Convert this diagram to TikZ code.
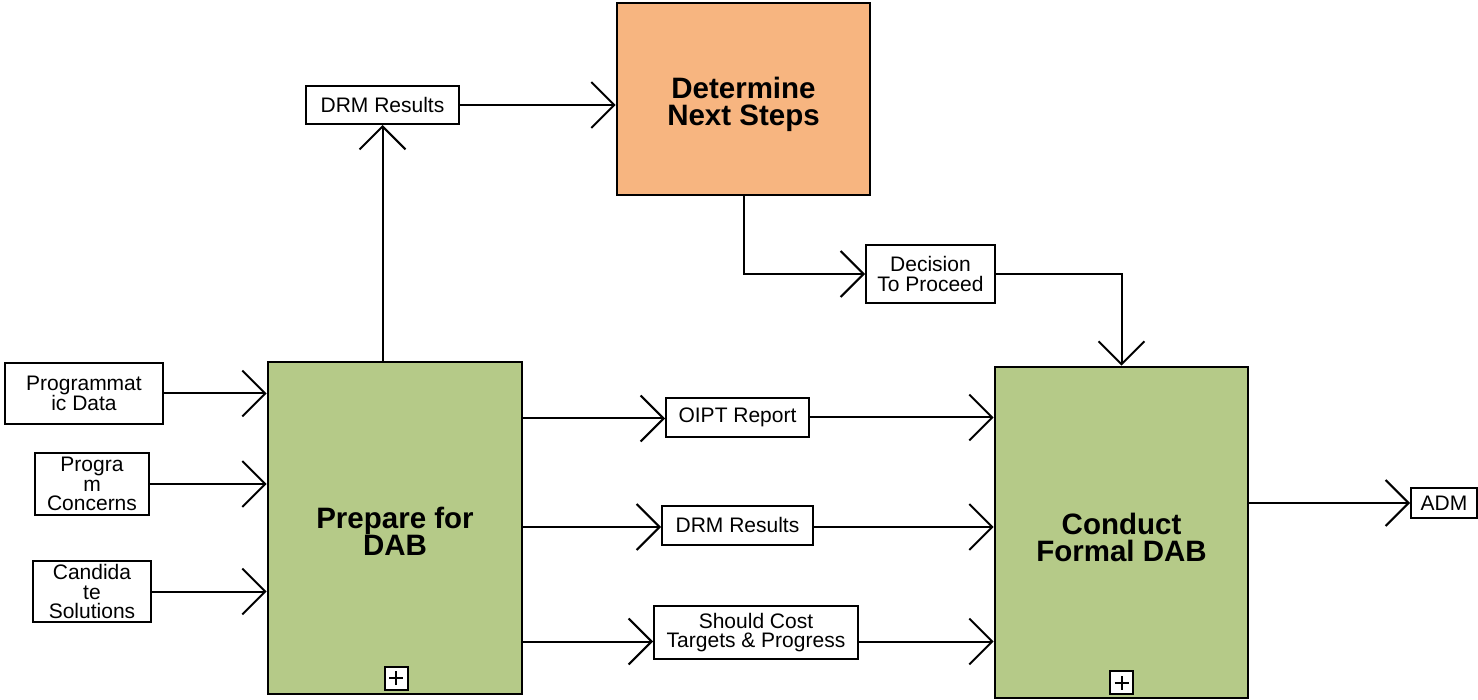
\documentclass[tikz,border=0pt]{standalone}
\usepackage{fontspec}
\setmainfont{Liberation Sans}
\usetikzlibrary{arrows.meta}
\definecolor{actgreen}{HTML}{B5CA88}
\definecolor{actorange}{HTML}{F7B580}
\begin{document}
\begin{tikzpicture}[
x=1pt, y=-1pt,
activity/.style={draw, line width=2.6pt, inner sep=0pt},
activitytext/.style={align=center, inner sep=0pt, yshift=-5pt,
  font=\fontsize{29.5}{27}\selectfont\bfseries},
flowbox/.style={draw, line width=2pt, fill=white, align=center, inner sep=0pt,
  font=\fontsize{21}{19.5}\selectfont},
flow/.style={line width=2pt, -{Straight Barb[length=23pt,width=46pt]}},
plusbox/.style={draw, line width=2pt, fill=white, minimum size=23pt, inner sep=0pt,
  path picture={\draw[line width=2pt] (path picture bounding box.center) ++(-7pt,0) -- ++(14pt,0)
    (path picture bounding box.center) ++(0,-7pt) -- ++(0,14pt);}}
]
\useasboundingbox (0,0) rectangle (1478,700);

% activities
\node[activity, fill=actgreen, minimum width=254pt, minimum height=332pt,
  label={[activitytext, yshift=2pt]center:Prepare for\\DAB}] (prep) at (395,528) {};
\node[activity, fill=actorange, minimum width=253pt, minimum height=192pt,
  label={[activitytext]center:Determine\\Next Steps}] (det) at (743.5,99) {};
\node[activity, fill=actgreen, minimum width=253pt, minimum height=331pt,
  label={[activitytext]center:Conduct\\Formal DAB}] (conduct) at (1121.5,532.5) {};
\node[plusbox] (prepplus) at (396,678) {};
\node[plusbox] (conductplus) at (1121.5,682.5) {};

% inputs and outputs
\node[flowbox, minimum width=158pt, minimum height=61pt] (progdata) at (84,393.5) {Programmat\\ic Data};
\node[flowbox, minimum width=114pt, minimum height=62pt] (progcon) at (92,484) {Progra\\m\\Concerns};
\node[flowbox, minimum width=118pt, minimum height=61pt] (candsol) at (92,591.5) {Candida\\te\\Solutions};
\node[flowbox, minimum width=153pt, minimum height=38pt] (drmtop) at (382.5,105) {DRM Results};
\node[flowbox, minimum width=129pt, minimum height=58pt] (decision) at (930.5,274) {Decision\\To Proceed};
\node[flowbox, minimum width=143pt, minimum height=39pt] (oipt) at (737.5,417.5) {OIPT Report};
\node[flowbox, minimum width=151pt, minimum height=39pt] (drmmid) at (737.5,525) {DRM Results};
\node[flowbox, minimum width=204pt, minimum height=53pt] (shouldcost) at (756,632.5) {Should Cost\\Targets \& Progress};
\node[flowbox, minimum width=66pt, minimum height=30pt] (adm) at (1444,503) {ADM};

% connectors
\draw[flow] (progdata) -- (prep.west |- progdata);
\draw[flow] (progcon) -- (prep.west |- progcon);
\draw[flow] (candsol) -- (prep.west |- candsol);
\draw[flow] (prep.north -| drmtop) -- (drmtop.south);
\draw[flow] (drmtop) -- (det.west |- drmtop);
\draw[flow] (det.south) |- (decision.west);
\draw[flow] (decision.east) -| (conduct.north);
\draw[flow] ([yshift=-1pt]prep.east |- oipt) -- ([yshift=-1pt]oipt.west);
\draw[flow] (oipt.east) -- (conduct.west |- oipt);
\draw[flow] ([yshift=-2pt]prep.east |- drmmid) -- ([yshift=-2pt]drmmid.west);
\draw[flow] ([yshift=-2pt]drmmid.east) -- ([yshift=-2pt]conduct.west |- drmmid);
\draw[flow] ([yshift=-9pt]prep.east |- shouldcost) -- ([yshift=-9pt]shouldcost.west);
\draw[flow] ([yshift=-9pt]shouldcost.east) -- ([yshift=-9pt]conduct.west |- shouldcost);
\draw[flow] (conduct.east |- adm) -- (adm.west);
\end{tikzpicture}
\end{document}
